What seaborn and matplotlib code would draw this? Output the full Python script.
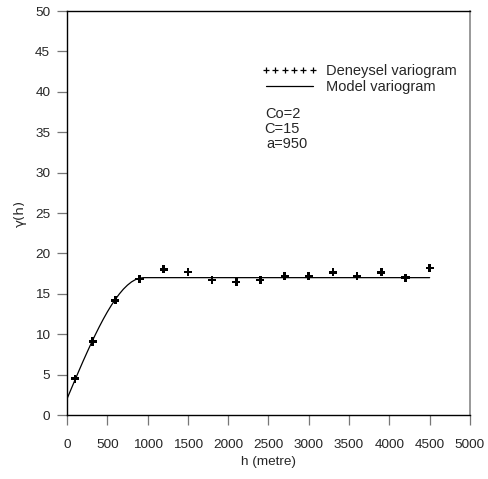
import numpy as np
import pandas as pd
import matplotlib
matplotlib.use("Agg")
import matplotlib.pyplot as plt
from matplotlib.lines import Line2D
import seaborn as sns

lag_h = [100, 320, 600, 900, 1200, 1500, 1800, 2100, 2400, 2700, 3000, 3300, 3600, 3900, 4200, 4500]
gamma_exp = [4.5, 9.1, 14.2, 16.85, 18.05, 17.7, 16.7, 16.45, 16.7, 17.15, 17.15, 17.65, 17.15, 17.65, 17.0, 18.2]

# Model variogram (spherical, Co=2, C=15, a=950) read as values
model_h = [0, 50, 100, 150, 200, 250, 300, 350, 400, 450, 500, 550, 600, 650, 700, 750, 800, 850, 900, 950, 4500]
model_g = [2.0, 3.18, 4.36, 5.52, 6.67, 7.78, 8.87, 9.91, 10.91, 11.86, 12.75, 13.57, 14.32, 14.99, 15.58, 16.07, 16.47, 16.76, 16.94, 17.0, 17.0]

x_ticks = [0, 500, 1000, 1500, 2000, 2500, 3000, 3500, 4000, 4500, 5000]
y_ticks = [0, 5, 10, 15, 20, 25, 30, 35, 40, 45, 50]
params = ["Co=2", "C=15", "a=950"]

sns.set_style("white")
plt.rcParams['font.family'] = ['Liberation Sans', 'DejaVu Sans']

fig = plt.figure(figsize=(4.88, 4.79), dpi=100)
ax = fig.add_axes([0.1373, 0.1336, 0.963 - 0.1373, 0.977 - 0.1336])

df_exp = pd.DataFrame({"h": lag_h, "g": gamma_exp})
df_mod = pd.DataFrame({"h": model_h, "g": model_g})

sns.lineplot(data=df_mod, x="h", y="g", ax=ax, color="black", linewidth=0.9,
             sort=False, legend=False)
sns.scatterplot(data=df_exp, x="h", y="g", ax=ax, marker="P", s=34, color="black",
                edgecolor="none", legend=False)

ax.set_xlim(0, 5000)
ax.set_ylim(0, 50)
ax.set_xticks(x_ticks)
ax.set_yticks(y_ticks)
ax.tick_params(axis="both", direction="out", length=7, width=0.9, color="#777777",
               labelsize=9.7, bottom=True, left=True)
ax.tick_params(axis="x", pad=10.5)
ax.tick_params(axis="y", pad=5)
ax.set_xlabel("h (metre)", fontsize=9.7, labelpad=3.5)
ax.set_ylabel("γ(h)", fontsize=9.7, family=['DejaVu Sans'])
ax.yaxis.set_label_coords(-0.099, 0.5)

for side in ["top", "bottom", "left"]:
    ax.spines[side].set_color("black")
    ax.spines[side].set_linewidth(1.0)
ax.spines["right"].set_color("#888888")
ax.spines["right"].set_linewidth(1.2)

h_exp = Line2D([], [], marker="+", linestyle="none", color="black",
               markersize=4.5, markeredgewidth=0.9)
h_mod = Line2D([], [], color="black", linewidth=0.9)
leg = ax.legend([h_exp, h_mod], ["Deneysel variogram", "Model variogram"],
                loc="upper left", bbox_to_anchor=(0.483, 0.868), frameon=False,
                fontsize=10.5, handlelength=3.8, numpoints=6, handletextpad=0.6,
                labelspacing=0.1, borderpad=0, borderaxespad=0)

ys = [0.745, 0.708, 0.671]
xs = [0.491, 0.489, 0.496]
for t, x, y in zip(params, xs, ys):
    ax.text(x, y, t, transform=ax.transAxes, fontsize=10.5, va="center")

fig.savefig("out.png", dpi=100)
